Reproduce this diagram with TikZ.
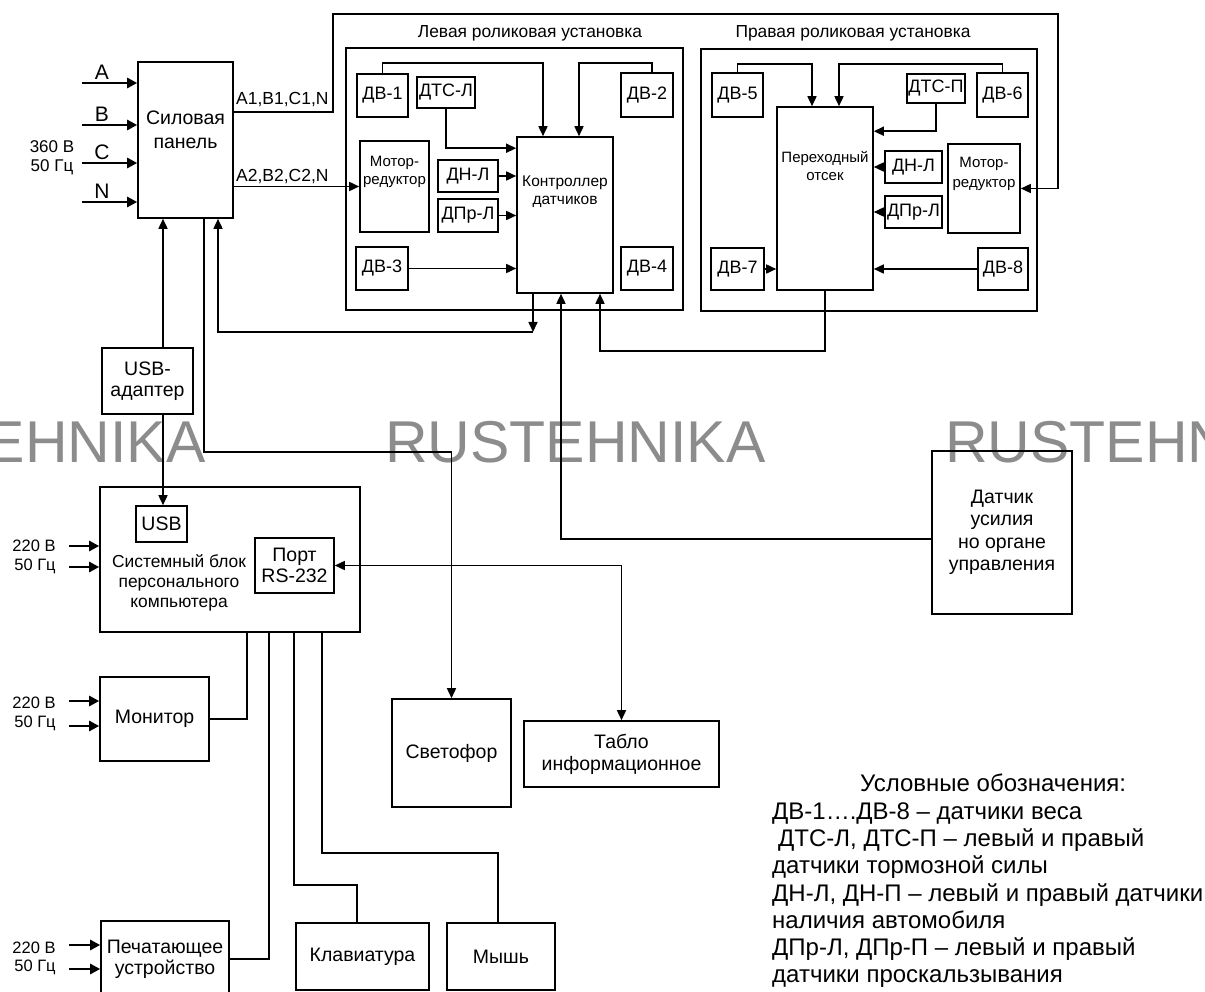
\documentclass[tikz,border=0pt]{standalone}
\usepackage{fontspec}
\setmainfont{Liberation Sans}
\usetikzlibrary{arrows.meta,positioning}

\begin{document}
\begin{tikzpicture}[
x=1pt, y=-1pt,
blk/.style={draw, line width=1.6pt, inner sep=0pt, align=center, font=\fontsize{19.5}{21}\selectfont},
sens/.style={blk, font=\fontsize{18}{20}\selectfont},
txt/.style={inner sep=0pt, align=center},
wire/.style={line width=1.6pt},
arr/.style={wire, -{Triangle[length=10pt,width=9pt]}},
arrboth/.style={wire, {Triangle[length=10pt,width=9pt]}-{Triangle[length=10pt,width=9pt]}},
pin/.style={line width=2.6pt, -{Triangle[length=10pt,width=10pt]}},
wmark/.style={inner sep=0pt, anchor=base west, text=black!45, font=\fontsize{59}{64}\selectfont}
]
\useasboundingbox (0,0) rectangle (1205,992);

% watermark
\node[wmark] (wm1) at (-175,462) {RUSTEHNIKA};
\node[wmark] (wm2) at (385,462) {RUSTEHNIKA};
\node[wmark] (wm3) at (945,462) {RUSTEHNIKA};

% power panel
\node[blk, minimum width=95pt, minimum height=156pt] (pwr) at (185.5,140) {};
\node[txt, font=\fontsize{19.5}{24}\selectfont] (pwr-t) at (185.5,130) {Силовая\\панель};
\foreach \y/\p in {83/A,125/B,163/C,202/N}{
  \coordinate (in\p) at (82,\y);
  \node[txt, font=\fontsize{21}{24}\selectfont] (lab\p) at (102,\y-11) {\p};
  \draw[pin] (in\p) -- (in\p -| pwr.west);
}
\node[txt, font=\fontsize{17}{19}\selectfont] (mains) at (52,158) {360 В\\50 Гц};
\node[txt, anchor=west, font=\fontsize{17.5}{19}\selectfont] (out1) at (236,100) {A1,B1,C1,N};
\node[txt, anchor=west, font=\fontsize{17.5}{19}\selectfont] (out2) at (236,177) {A2,B2,C2,N};

% left roller unit
\node[blk, minimum width=337pt, minimum height=262pt] (lroll) at (514.5,179) {};
\node[txt, font=\fontsize{17.4}{19}\selectfont] (lroll-t) at (530,33) {Левая роликовая установка};
\node[sens, minimum width=51pt, minimum height=43pt] (dv1) at (382.5,95.5) {ДВ-1};
\node[sens, minimum width=58pt, minimum height=31pt] (dtsl) at (446,92.5) {ДТС-Л};
\node[sens, minimum width=52pt, minimum height=44pt] (dv2) at (647,95) {ДВ-2};
\node[blk, minimum width=69pt, minimum height=91pt] (motl) at (394.5,186.5) {};
\node[txt, font=\fontsize{15}{18}\selectfont] (motl-t) at (394.5,172) {Мотор-\\редуктор};
\node[sens, minimum width=60pt, minimum height=32pt] (dnl) at (468,176) {ДН-Л};
\node[sens, minimum width=60pt, minimum height=33pt] (dprl) at (468,215.5) {ДПр-Л};
\node[sens, minimum width=52pt, minimum height=43pt] (dv3) at (382,268.5) {ДВ-3};
\node[sens, minimum width=52pt, minimum height=43pt] (dv4) at (647,268.5) {ДВ-4};
\node[blk, minimum width=96pt, minimum height=156pt] (ctrl) at (565,215) {};
\node[txt, font=\fontsize{15.5}{18}\selectfont] (ctrl-t) at (565,192) {Контроллер\\датчиков};

\coordinate (k1) at (543,63);
\coordinate (k2) at (579,63);
\draw[arr] (dv1.north) |- (k1) -- (k1 |- ctrl.north);
\draw[arr] ([xshift=5pt]dv2.north) |- (k2) -- (k2 |- ctrl.north);
\draw[arr] (dtsl.south) |- ([yshift=-12pt]ctrl.north west);
\draw[arr] (dnl) -- (dnl -| ctrl.west);
\draw[arr] (dprl) -- (dprl -| ctrl.west);
\draw[arr] (dv3) -- (dv3 -| ctrl.west);
\draw[arr] (pwr.east |- motl.west) -- (motl.west);

% right roller unit
\node[blk, minimum width=336pt, minimum height=262pt] (rroll) at (869,180) {};
\node[txt, font=\fontsize{17.4}{19}\selectfont] (rroll-t) at (853,33) {Правая роликовая установка};
\node[sens, minimum width=51pt, minimum height=44pt] (dv5) at (737.5,95) {ДВ-5};
\node[sens, minimum width=58pt, minimum height=29pt] (dtsp) at (936,88.5) {ДТС-П};
\node[sens, minimum width=51pt, minimum height=44pt] (dv6) at (1002.5,95) {ДВ-6};
\node[blk, minimum width=96pt, minimum height=183pt] (trans) at (825,198.5) {};
\node[txt, font=\fontsize{15}{18}\selectfont] (trans-t) at (825,166) {Переходный\\отсек};
\node[sens, minimum width=57pt, minimum height=32pt] (dnp) at (913.5,167) {ДН-Л};
\node[sens, minimum width=57pt, minimum height=32pt] (dprp) at (913.5,212) {ДПр-Л};
\node[blk, minimum width=72pt, minimum height=89pt] (motp) at (984,188.5) {};
\node[txt, font=\fontsize{15}{20}\selectfont] (motp-t) at (984,174) {Мотор-\\редуктор};
\node[sens, minimum width=53pt, minimum height=42pt] (dv7) at (737.5,269) {ДВ-7};
\node[sens, minimum width=50pt, minimum height=42pt] (dv8) at (1003,269) {ДВ-8};

\coordinate (k3) at (812,64);
\coordinate (k4) at (839,64);
\draw[arr] (dv5.north) |- (k3) -- (k3 |- trans.north);
\draw[arr] (dv6.north) |- (k4) -- (k4 |- trans.north);
\draw[arr] (dtsp.south) |- ([yshift=-25pt]trans.north east);
\draw[arr] (dnp) -- (dnp -| trans.east);
\draw[arr] (dprp) -- (dprp -| trans.east);
\draw[arr] (dv8) -- (dv8 -| trans.east);
\draw[arr] (dv7) -- (dv7 -| trans.west);

% supply of the right gear motor
\coordinate (t1) at (333,14);
\coordinate (t2) at (1058,14);
\draw[arr] ([yshift=28pt]pwr.east) -| (t1) -- (t2) |- (motp.east);

% links under the roller units
\coordinate (b1) at (533,332);
\coordinate (b2) at (218,332);
\draw[arr] (b1 |- ctrl.south) -- (b1);
\draw[arr] (b1) -- (b2) -- (b2 |- pwr.south);
\coordinate (b3) at (600,351);
\draw[arr] (trans) |- (b3) -- (b3 |- ctrl.south);

\node[blk, minimum width=140pt, minimum height=163pt, font=\fontsize{19.5}{22.5}\selectfont] (force) at (1002,532.5) {Датчик\\усилия\\но органе\\управления};
\coordinate (b4) at (561,539);
\draw[arr] (b4 -| force.west) -- (b4) -- (b4 |- ctrl.south);

% computer
\node[blk, minimum width=91pt, minimum height=66pt] (usbad) at (147.5,381) {USB-\\адаптер};
\node[blk, minimum width=260pt, minimum height=145pt] (pc) at (230,559.5) {};
\node[txt, font=\fontsize{17.4}{20}\selectfont] (pc-t) at (179,583) {Системный блок\\персонального\\компьютера};
\node[blk, minimum width=51pt, minimum height=36pt] (usb) at (161.5,524) {USB};
\node[blk, minimum width=79pt, minimum height=55pt] (port) at (294.5,565.5) {Порт\\RS-232};

\coordinate (u1) at (163,300);
\draw[arr] (usbad.north -| u1) -- (pwr.south -| u1);
\draw[arr] (usbad.south -| u1) -- (usb.north -| u1);

\node[blk, minimum width=119pt, minimum height=108pt] (svet) at (451.5,753) {Светофор};
\node[blk, minimum width=195pt, minimum height=66pt, font=\fontsize{19.5}{22}\selectfont] (tablo) at (621.5,754) {Табло\\информационное};
\node[blk, minimum width=109pt, minimum height=84pt] (mon) at (154.5,719) {Монитор};
\node[blk, minimum width=128pt, minimum height=76pt] (prn) at (165,959) {Печатающее\\устройство};
\node[blk, minimum width=133pt, minimum height=67pt] (kbd) at (362.5,956.5) {Клавиатура};
\node[blk, minimum width=108pt, minimum height=67pt] (mouse) at (501,956.5) {Мышь};

\coordinate (s1) at (204,452);
\draw[arr] (pwr.south -| s1) -- (s1) -| (svet.north);
\draw[arrboth] (port.east) -| (tablo.north);

\draw[wire] (mon.east) -| ([xshift=17pt]pc.south);
\draw[wire] (prn.east) -| ([xshift=39pt]pc.south);
\coordinate (kb1) at (357,885);
\draw[wire] (kb1 |- kbd.north) -- (kb1) -| ([xshift=64pt]pc.south);
\coordinate (ms1) at (498,853);
\draw[wire] (ms1 |- mouse.north) -- (ms1) -| ([xshift=92pt]pc.south);

% mains inputs
\foreach \n/\ya/\yb/\la/\lb in {pc/546/567/546/566, mon/701/726/703/723, prn/945/969/948/967}{
  \node[txt, font=\fontsize{16.5}{18}\selectfont] (v\n) at (34,\la) {220 В};
  \node[txt, font=\fontsize{16.5}{18}\selectfont] (f\n) at (35,\lb) {50 Гц};
  \coordinate (pa\n) at (69,\ya);
  \coordinate (pb\n) at (69,\yb);
  \draw[pin] (pa\n) -- (pa\n -| \n.west);
  \draw[pin] (pb\n) -- (pb\n -| \n.west);
}

% legend
\node[txt, align=left, anchor=north west, font=\fontsize{24}{27.3}\selectfont] (legend) at (772,774) {\hspace*{88pt}Условные обозначения:\\ДВ-1….ДВ-8 – датчики веса\\\hspace*{6pt}ДТС-Л, ДТС-П – левый и правый\\датчики тормозной силы\\ДН-Л, ДН-П – левый и правый датчики\\наличия автомобиля\\ДПр-Л, ДПр-П – левый и правый\\датчики проскальзывания};
\end{tikzpicture}
\end{document}
